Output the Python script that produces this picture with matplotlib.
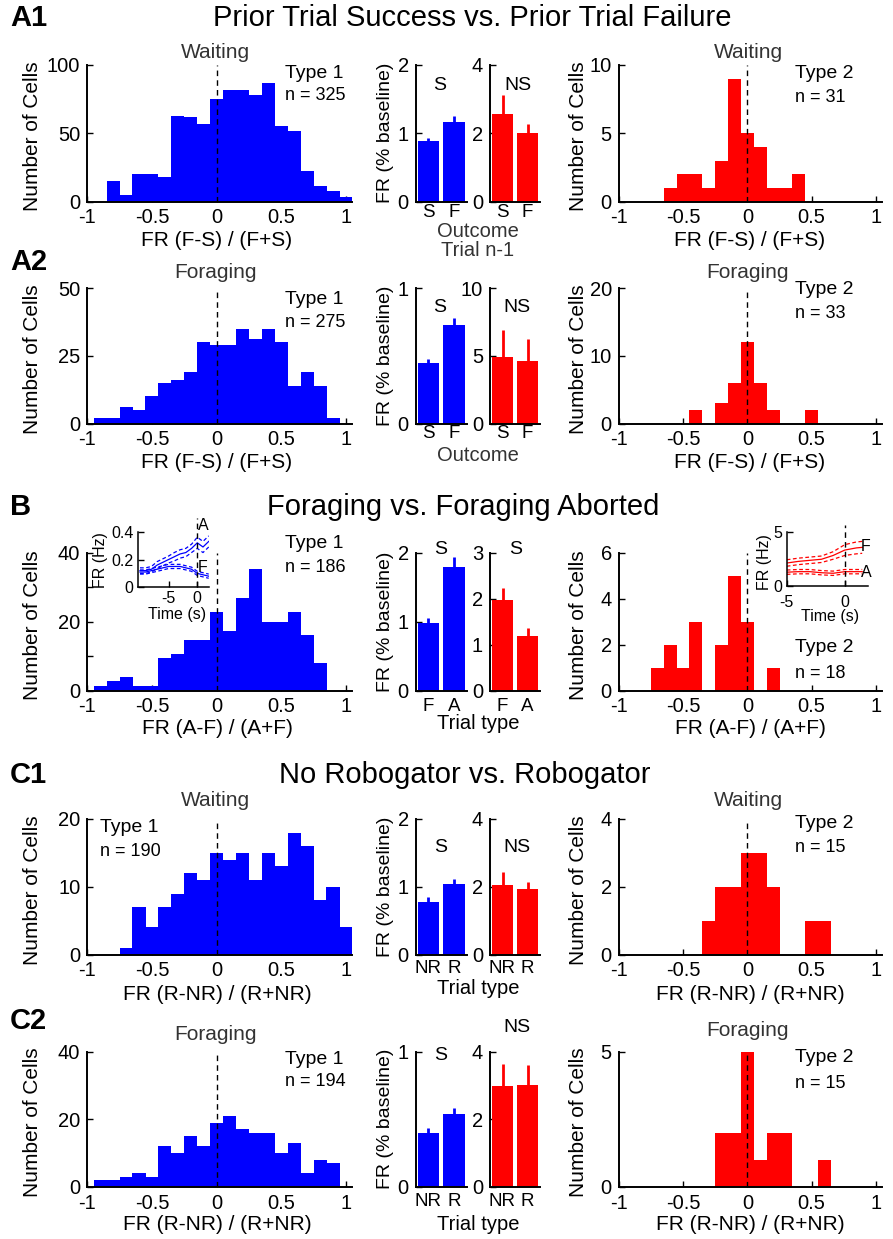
import numpy as np
import matplotlib
matplotlib.use('Agg')
import matplotlib.pyplot as plt

plt.rcParams['font.family'] = ['Liberation Sans', 'DejaVu Sans']
plt.rcParams['axes.unicode_minus'] = False

W, H = 893, 1239
BLUE = '#0000ff'
RED = '#ff0000'

# histogram bins: centres -0.9 .. 1.0, 0.1 wide
bin_centers = np.round(np.arange(-0.9, 1.01, 0.1), 1)

# --- A1: prior trial success vs failure, waiting epoch ---
a1_t1_counts = [0, 15, 5, 20, 20, 18, 63, 62, 57, 75, 82, 82, 78, 87, 55, 52, 22, 11, 8, 3]
a1_t2_counts = [0, 0, 0, 1, 2, 2, 1, 3, 9, 5, 4, 1, 1, 2, 0, 0, 0, 0, 0, 0]
a1_labels = ['S', 'F']
a1_t1_fr = [0.885, 1.17]
a1_t1_sem = [0.045, 0.08]
a1_t2_fr = [2.56, 2.0]
a1_t2_sem = [0.56, 0.26]

# --- A2: prior trial success vs failure, foraging epoch ---
a2_t1_counts = [2, 2, 6, 5, 10, 15, 16, 19, 30, 29, 29, 35, 31, 35, 30, 14, 19, 14, 2, 0]
a2_t2_counts = [0, 0, 0, 0, 0, 2, 0, 3, 6, 12, 6, 2, 0, 0, 2, 0, 0, 0, 0, 0]
a2_labels = ['S', 'F']
a2_t1_fr = [0.447, 0.725]
a2_t1_sem = [0.032, 0.056]
a2_t2_fr = [4.9, 4.6]
a2_t2_sem = [2.0, 1.6]

# --- B: foraging vs foraging aborted ---
b_t1_counts = [1.4, 2.7, 4, 1.4, 1.4, 9.5, 10.6, 14.8, 14.8, 22.8, 17.3, 26.8, 35.3, 19.9, 19.9, 22.8, 16.1, 8, 0, 0]
b_t2_counts = [0, 0, 1, 2, 1, 3, 0, 2, 5, 3, 0, 1, 0, 0, 0, 0, 0, 0, 0, 0]
b_labels = ['F', 'A']
b_t1_fr = [0.98, 1.8]
b_t1_sem = [0.07, 0.14]
b_t2_fr = [1.98, 1.185]
b_t2_sem = [0.25, 0.18]

# inset time courses (FR in Hz)
b_t1_time = [-10, -9, -8, -7, -6, -5, -4, -3, -2, -1, 0, 1, 2]
b_t1_abort_mean = [0.12, 0.12, 0.13, 0.16, 0.18, 0.20, 0.22, 0.24, 0.25, 0.28, 0.32, 0.29, 0.33]
b_t1_abort_sem = [0.02, 0.02, 0.02, 0.025, 0.025, 0.025, 0.03, 0.03, 0.03, 0.03, 0.04, 0.04, 0.04]
b_t1_forage_mean = [0.11, 0.11, 0.12, 0.13, 0.14, 0.15, 0.15, 0.15, 0.14, 0.13, 0.10, 0.09, 0.08]
b_t1_forage_sem = [0.015, 0.015, 0.015, 0.015, 0.015, 0.015, 0.015, 0.015, 0.015, 0.015, 0.015, 0.015, 0.015]

b_t2_time = [-5, -4, -3, -2, -1, 0, 1, 1.5]
b_t2_forage_mean = [2.1, 2.25, 2.35, 2.45, 2.8, 3.3, 3.5, 3.55]
b_t2_forage_sem = [0.3, 0.3, 0.3, 0.3, 0.35, 0.5, 0.55, 0.55]
b_t2_abort_mean = [1.25, 1.3, 1.3, 1.2, 1.15, 1.3, 1.3, 1.3]
b_t2_abort_sem = [0.2, 0.2, 0.2, 0.2, 0.2, 0.2, 0.2, 0.2]

# --- C1: no robogator vs robogator, waiting ---
c1_t1_counts = [0, 0, 1, 7, 4, 7, 9, 12, 11, 15, 14, 15, 11, 15, 13, 18, 16, 8, 10, 4]
c1_t2_counts = [0, 0, 0, 0, 0, 0, 1, 2, 2, 3, 3, 2, 0, 0, 1, 1, 0, 0, 0, 0]
c1_labels = ['NR', 'R']
c1_t1_fr = [0.77, 1.04]
c1_t1_sem = [0.08, 0.07]
c1_t2_fr = [2.05, 1.93]
c1_t2_sem = [0.39, 0.21]

# --- C2: no robogator vs robogator, foraging ---
c2_t1_counts = [2, 2, 3, 4, 3, 12, 10, 15, 12, 19, 21, 17, 16, 16, 10, 13, 4, 8, 7, 0]
c2_t2_counts = [0, 0, 0, 0, 0, 0, 0, 2, 2, 5, 1, 2, 2, 0, 0, 1, 0, 0, 0, 0]
c2_labels = ['NR', 'R']
c2_t1_fr = [0.40, 0.54]
c2_t1_sem = [0.032, 0.04]
c2_t2_fr = [2.97, 3.01]
c2_t2_sem = [0.66, 0.58]

fig = plt.figure(figsize=(W / 100, H / 100), dpi=100)


def px_axes(x0, x1, ytop, ybot):
    return fig.add_axes([x0 / W, 1 - ybot / H, (x1 - x0) / W, (ybot - ytop) / H])


def px_text(x, y, s, **kw):
    kw.setdefault('ha', 'center')
    kw.setdefault('va', 'center')
    fig.text(x / W, 1 - y / H, s, **kw)


def style(ax, size=14.5, pad=5):
    for side in ['top', 'right']:
        ax.spines[side].set_visible(False)
    for side in ['left', 'bottom']:
        ax.spines[side].set_linewidth(1.4)
    ax.tick_params(direction='in', length=4, width=1, labelsize=size, pad=pad)
    ax.patch.set_alpha(0)


def hist_panel(cols, rows, counts, color, yticks):
    ax = px_axes(cols[0], cols[1], rows[0], rows[1])
    ax.bar(bin_centers, counts, width=0.101, color=color, linewidth=0, zorder=2)
    ax.axvline(0, color='k', ls=(0, (4, 3)), lw=1, zorder=3)
    ax.set_xlim(-1, 1.05)
    ax.set_ylim(yticks[0], yticks[-1])
    ax.set_xticks([-1, -0.5, 0, 0.5, 1])
    ax.set_xticklabels(['-1', '-0.5', '0', '0.5', '1'])
    ax.set_yticks(yticks)
    style(ax)
    return ax


def fr_panel(cols, rows, labels, fr, sem, color, yticks, xpad):
    ax = px_axes(cols[0], cols[1], rows[0], rows[1])
    pos = np.arange(1, len(fr) + 1)
    ax.bar(pos, fr, width=0.84, color=color, linewidth=0, zorder=2)
    ax.vlines(pos, fr, np.add(fr, sem), color=color, lw=2, zorder=2)
    ax.set_xlim(0.5, 2.5)
    ax.set_ylim(yticks[0], yticks[-1])
    ax.set_xticks(pos)
    ax.set_xticklabels(labels)
    ax.set_yticks(yticks)
    style(ax)
    ax.tick_params(axis='x', length=0, pad=xpad, labelsize=13.5)
    return ax


COL_H1 = (87.3, 352.4)
COL_BLUE = (415.7, 466.7)
COL_RED = (490, 540)
COL_H2 = (618.7, 882.4)

ROW_A1 = (65, 201.5)
ROW_A2 = (288, 423.5)
ROW_B = (553, 690.5)
ROW_C1 = (819, 954.5)
ROW_C2 = (1051.5, 1187)

TYPE_FS = 14
N_FS = 13
LAB_FS = 15
TITLE_FS = 21
SUB_COLOR = '#333333'

# ---------------- A1 ----------------
hist_panel(COL_H1, ROW_A1, a1_t1_counts, BLUE, [0, 50, 100])
hist_panel(COL_H2, ROW_A1, a1_t2_counts, RED, [0, 5, 10])
fr_panel(COL_BLUE, ROW_A1, a1_labels, a1_t1_fr, a1_t1_sem, BLUE, [0, 1, 2], 1.7)
fr_panel(COL_RED, ROW_A1, a1_labels, a1_t2_fr, a1_t2_sem, RED, [0, 2, 4], 1.7)

# ---------------- A2 ----------------
hist_panel(COL_H1, ROW_A2, a2_t1_counts, BLUE, [0, 25, 50])
hist_panel(COL_H2, ROW_A2, a2_t2_counts, RED, [0, 10, 20])
fr_panel(COL_BLUE, ROW_A2, a2_labels, a2_t1_fr, a2_t1_sem, BLUE, [0, 1], 1)
fr_panel(COL_RED, ROW_A2, a2_labels, a2_t2_fr, a2_t2_sem, RED, [0, 5, 10], 1)

# ---------------- B ----------------
ax = hist_panel(COL_H1, ROW_B, b_t1_counts, BLUE, [0, 20, 40])
ax.set_yticks([10, 30], minor=True)
ax.tick_params(which='minor', direction='in', length=4, width=1)
hist_panel(COL_H2, ROW_B, b_t2_counts, RED, [0, 2, 4, 6])
fr_panel(COL_BLUE, ROW_B, b_labels, b_t1_fr, b_t1_sem, BLUE, [0, 1, 2], 5.6)
fr_panel(COL_RED, ROW_B, b_labels, b_t2_fr, b_t2_sem, RED, [0, 1, 2, 3], 5.6)


def inset_panel(cols, rows, xlim, ylim, yticks, xticks, t, curves, color, top, xpad=3):
    ax = px_axes(cols[0], cols[1], rows[0], rows[1])
    for mean, sem in curves:
        mean = np.array(mean)
        sem = np.array(sem)
        ax.plot(t, mean, color=color, lw=0.9)
        ax.plot(t, mean + sem, color=color, lw=0.9, ls=(0, (3, 2)))
        ax.plot(t, mean - sem, color=color, lw=0.9, ls=(0, (3, 2)))
    ax.plot([0, 0], [ylim[0], top], color='k', lw=1, ls=(0, (4, 3)), clip_on=False)
    ax.set_xlim(*xlim)
    ax.set_ylim(*ylim)
    ax.set_xticks(xticks)
    ax.set_xticklabels([str(v) for v in xticks])
    ax.set_yticks(yticks)
    ax.set_yticklabels([('%g' % v) for v in yticks])
    style(ax, size=11.5, pad=3)
    ax.tick_params(axis='x', pad=xpad)
    ax.spines['left'].set_linewidth(1.1)
    ax.spines['bottom'].set_linewidth(1.1)
    return ax


inset_panel((137.7, 209.3), (531.7, 587.3), (-10.4, 2.1), (0, 0.4), [0, 0.2, 0.4], [-5, 0],
            b_t1_time, [(b_t1_abort_mean, b_t1_abort_sem), (b_t1_forage_mean, b_t1_forage_sem)],
            BLUE, 0.5)
inset_panel((786.7, 868), (531.7, 585.7), (-5, 2), (0, 5), [0, 5], [-5, 0],
            b_t2_time, [(b_t2_forage_mean, b_t2_forage_sem), (b_t2_abort_mean, b_t2_abort_sem)],
            RED, 5.6, xpad=6.8)

# ---------------- C1 ----------------
hist_panel(COL_H1, ROW_C1, c1_t1_counts, BLUE, [0, 10, 20])
hist_panel(COL_H2, ROW_C1, c1_t2_counts, RED, [0, 2, 4])
fr_panel(COL_BLUE, ROW_C1, c1_labels, c1_t1_fr, c1_t1_sem, BLUE, [0, 1, 2], 3.8)
fr_panel(COL_RED, ROW_C1, c1_labels, c1_t2_fr, c1_t2_sem, RED, [0, 2, 4], 3.8)

# ---------------- C2 ----------------
hist_panel(COL_H1, ROW_C2, c2_t1_counts, BLUE, [0, 20, 40])
hist_panel(COL_H2, ROW_C2, c2_t2_counts, RED, [0, 5])
fr_panel(COL_BLUE, ROW_C2, c2_labels, c2_t1_fr, c2_t1_sem, BLUE, [0, 1], 4.2)
fr_panel(COL_RED, ROW_C2, c2_labels, c2_t2_fr, c2_t2_sem, RED, [0, 2, 4], 4.2)

# ---------------- labels and annotations ----------------
# panel letters and section titles
for letter, y in [('A1', 18), ('A2', 262), ('B', 507), ('C1', 775), ('C2', 1021)]:
    px_text(10, y, letter, ha='left', fontsize=21, fontweight='bold')
px_text(472, 18, 'Prior Trial Success vs. Prior Trial Failure', fontsize=TITLE_FS)
px_text(463, 507, 'Foraging vs. Foraging Aborted', fontsize=TITLE_FS)
px_text(465, 775, 'No Robogator vs. Robogator', fontsize=TITLE_FS)

# epoch names above the histograms
for name, y in [('Waiting', 52), ('Foraging', 273), ('Waiting', 801), ('Foraging', 1035)]:
    px_text(215, y, name, fontsize=15, color=SUB_COLOR)
for name, y in [('Waiting', 52), ('Foraging', 272), ('Waiting', 801), ('Foraging', 1030)]:
    px_text(748, y, name, fontsize=15, color=SUB_COLOR)

# cell type and count
type_labels = [
    (285, 73, 95, 'Type 1', 'n = 325'),
    (795, 73, 98, 'Type 2', 'n = 31'),
    (285, 299, 322, 'Type 1', 'n = 275'),
    (795, 289, 313, 'Type 2', 'n = 33'),
    (285, 544, 567, 'Type 1', 'n = 186'),
    (795, 647, 673, 'Type 2', 'n = 18'),
    (100, 828, 851, 'Type 1', 'n = 190'),
    (795, 823, 847, 'Type 2', 'n = 15'),
    (285, 1059, 1082, 'Type 1', 'n = 194'),
    (795, 1058, 1083, 'Type 2', 'n = 15'),
]
for x, yt, yn, t, n in type_labels:
    px_text(x, yt, t, ha='left', fontsize=TYPE_FS)
    px_text(x, yn, n, ha='left', fontsize=N_FS)

# significance marks over the firing-rate bars
sig_marks = [
    (440, 85, 'S'), (518, 85, 'NS'),
    (440, 307, 'S'), (517, 308, 'NS'),
    (441, 549, 'S'), (516, 549, 'S'),
    (441, 847, 'S'), (517, 847, 'NS'),
    (441, 1055, 'S'), (517, 1028, 'NS'),
]
for x, y, s in sig_marks:
    px_text(x, y, s, fontsize=14)

# axis titles
row_list = [ROW_A1, ROW_A2, ROW_B, ROW_C1, ROW_C2]
for r in row_list:
    yc = (r[0] + r[1]) / 2
    px_text(33, yc + 3, 'Number of Cells', rotation=90, fontsize=LAB_FS)
    px_text(578, yc + 3, 'Number of Cells', rotation=90, fontsize=LAB_FS)
    px_text(385, yc, 'FR (% baseline)', rotation=90, fontsize=14)

hist_xlabels = [
    (241, 'FR (F-S) / (F+S)'),
    (463, 'FR (F-S) / (F+S)'),
    (729, 'FR (A-F) / (A+F)'),
    (995, 'FR (R-NR) / (R+NR)'),
    (1225, 'FR (R-NR) / (R+NR)'),
]
for y, s in hist_xlabels:
    px_text(217, y, s, fontsize=LAB_FS)
    px_text(750, y, s, fontsize=LAB_FS)

px_text(478, 231.5, 'Outcome', fontsize=14.5, color=SUB_COLOR)
px_text(478, 250, 'Trial n-1', fontsize=14.5, color=SUB_COLOR)
px_text(478, 455, 'Outcome', fontsize=14.5, color=SUB_COLOR)
px_text(478, 723.5, 'Trial type', fontsize=14.5)
px_text(478, 989, 'Trial type', fontsize=14.5)
px_text(478, 1225, 'Trial type', fontsize=14.5)

# inset labels
px_text(100, 560, 'FR (Hz)', rotation=90, fontsize=11.5)
px_text(177, 614, 'Time (s)', fontsize=11.5)
px_text(203, 525, 'A', fontsize=11.5)
px_text(203, 567, 'F', fontsize=11.5)
px_text(764, 562, 'FR (Hz)', rotation=90, fontsize=11.5)
px_text(830, 616, 'Time (s)', fontsize=11.5)
px_text(866, 547, 'F', fontsize=11.5)
px_text(866, 573, 'A', fontsize=11.5)

fig.savefig('out.png', dpi=100)
